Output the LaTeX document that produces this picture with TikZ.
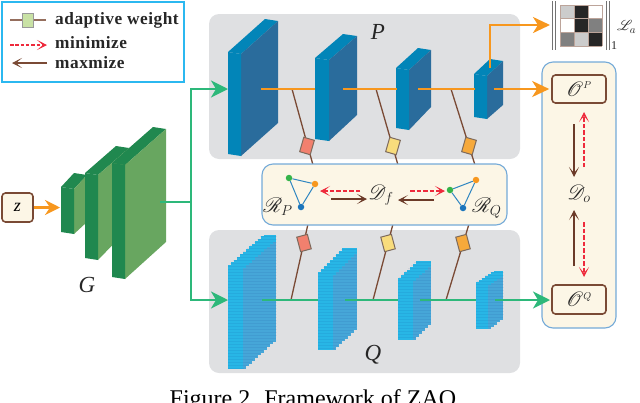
\documentclass[tikz,border=0pt]{standalone}
\usepackage{fontspec}
\usepackage{mathrsfs}
\setmainfont{Liberation Serif}
\newfontfamily\legfont[LetterSpace=3]{Liberation Serif Bold}
\usetikzlibrary{arrows.meta,calc}
\definecolor{panelgray}{HTML}{DFE0E2}
\definecolor{creamy}{HTML}{FCF6E6}
\definecolor{edgeblue}{HTML}{74AAD8}
\definecolor{legcyan}{HTML}{2BB8F0}
\definecolor{orangeline}{HTML}{F7971E}
\definecolor{greenline}{HTML}{2DB87A}
\definecolor{brownline}{HTML}{7A4A35}
\definecolor{darkbrown}{HTML}{6B3A28}
\definecolor{redline}{HTML}{EE2A3C}
\definecolor{pstrip}{HTML}{0285B8}
\definecolor{pface}{HTML}{2A6C9C}
\definecolor{qstrip}{HTML}{28B6E6}
\definecolor{qface}{HTML}{46A6D8}
\definecolor{gstrip}{HTML}{20884F}
\definecolor{gface}{HTML}{68A660}
\definecolor{lightgreenleg}{HTML}{C9E2A5}
\definecolor{salmonw}{HTML}{F2806E}
\definecolor{yellw}{HTML}{F8DC7C}
\definecolor{orangew}{HTML}{F6A93B}
\definecolor{dotgreen}{HTML}{35B44A}
\definecolor{dotblue}{HTML}{1B75BC}
\definecolor{triblue}{HTML}{2F86C1}
\definecolor{wedge}{HTML}{7D6A5C}
\tikzset{
  x=1pt,y=-1pt,
  panel/.style={fill=panelgray,draw=none,rounded corners=10pt},
  cream/.style={fill=creamy,draw=edgeblue,line width=1.1pt,rounded corners=11pt},
  valbox/.style={draw=brownline,line width=1.6pt,rounded corners=3.5pt,fill=creamy,inner sep=0pt},
  weight/.style={draw=wedge,line width=1pt,minimum width=11pt,minimum height=15pt,inner sep=0pt},
  conn/.style={draw=brownline,line width=1.3pt},
  bigor/.style={draw=orangeline,line width=2.6pt,-{Stealth[length=17pt,width=16pt,inset=5pt]}},
  plainor/.style={draw=orangeline,line width=2.6pt},
  biggr/.style={draw=greenline,line width=2.2pt,-{Stealth[length=17pt,width=17pt,inset=5pt]}},
  plaingr/.style={draw=greenline,line width=2.2pt},
  redarr/.style={draw=redline,line width=1.5pt,dash pattern=on 4.5pt off 2pt,-{Stealth[length=10pt,width=10pt,inset=6pt]}},
  brownarr/.style={draw=darkbrown,line width=1.5pt,-{Stealth[length=10pt,width=10pt,inset=6pt]}},
  legtext/.style={anchor=west,inner sep=0pt,font=\legfont\fontsize{17.3}{17.3}\selectfont,text=black!85},
  lab/.style={inner sep=0pt,text=black!85},
  biglab/.style={lab,font=\itshape\fontsize{23}{23}\selectfont},
  scr/.style={lab,font=\fontsize{20}{20}\selectfont},
  dot/.style={circle,inner sep=0pt,minimum size=6.5pt},
  tri/.style={draw=triblue,line width=1pt},
}
% solid block: strip x0-x1, right x2, top-left y, ridge y, bottom-left y, bottom-right y
\newcommand{\solidblock}[9]{%
  \fill[#8] (#1,#4) -- (#2,#4+2) -- (#3,#5+2) -- ({#3-(#2-#1)},#5) -- cycle;
  \fill[#9] (#2,#4+2) -- (#3,#5+2) -- (#3,#7) -- (#2,#6+2) -- cycle;
  \fill[#8] (#1,#4) -- (#2,#4+2) -- (#2,#6+2) -- (#1,#6) -- cycle;
}
% rasterised block
\newcommand{\qblock}[7]{%
  \begin{scope}
    \pgfmathsetmacro{\cxnext}{#1+3}%
    \pgfmathsetmacro{\cxend}{#3-2}%
    \foreach \cx in {#1,\cxnext,...,\cxend}{%
      \pgfmathsetmacro{\ttop}{max(#5,#4-(\cx-#1)*(#4-#5)/(#3-#2))}%
      \pgfmathsetmacro{\tbot}{\cx<#2?#6:#6-(\cx-#2)*(#6-#7)/(#3-#2)}%
      \pgfmathsetmacro{\ttopd}{#4-(\cx-#2)*(#4-#5)/(#3-#2)+3}%
      \fill[qstrip] (\cx,\ttop) rectangle (\cx+3.05,\tbot);
      \ifdim\cx pt<#2pt\relax\else
        \fill[qface] (\cx,\ttopd) rectangle (\cx+3.05,\tbot);
      \fi
    }
    \pgfmathsetmacro{\ystart}{#5+1.5}%
    \pgfmathsetmacro{\ynext}{#5+4.5}%
    \foreach \ly in {\ystart,\ynext,...,#6}{%
      \pgfmathsetmacro{\lxa}{\ly<#4?#1+(#4-\ly)*(#3-#2)/(#4-#5):#1}%
      \pgfmathsetmacro{\lxb}{\ly>#7?#3-(\ly-#7)*(#3-#2)/(#6-#7):#3}%
      \draw[black!60!blue,opacity=.06,line width=.4pt] (\lxa,\ly) -- (\lxb,\ly);
    }
  \end{scope}
}
\begin{document}
\begin{tikzpicture}
\useasboundingbox (0,0) rectangle (640,402);
% panels
\path[panel] (209,14) rectangle (520,159);
\path[panel] (209,230) rectangle (520,373);
\path[cream] (542,62) rectangle (616,328);

% anchors
\coordinate (pa1) at (261,89); \coordinate (pb1) at (315,89);
\coordinate (pa2) at (343,89); \coordinate (pb2) at (397,89);
\coordinate (pa3) at (418,89); \coordinate (pb3) at (475,89);
\coordinate (pa4) at (494,89);
\coordinate (pup) at (490,68);
\coordinate (qa1) at (262,300); \coordinate (qb1) at (318,300);
\coordinate (qa2) at (345,300); \coordinate (qb2) at (398,300);
\coordinate (qa3) at (420,300); \coordinate (qb3) at (476,300);
\coordinate (qa4) at (495,300);
\coordinate (pj1) at (292,89); \coordinate (pj2) at (376,89); \coordinate (pj3) at (451,89);
\coordinate (qj1) at (291,300); \coordinate (qj2) at (373,300); \coordinate (qj3) at (446,300);
\coordinate (pt1) at (313,165); \coordinate (pt2) at (398,165); \coordinate (pt3) at (475,165);
\coordinate (qt1) at (308,224); \coordinate (qt2) at (393,224); \coordinate (qt3) at (469,224);
\coordinate (gout) at (160,202);
\coordinate (gj) at (191,202);
\coordinate (gp) at (228,89);
\coordinate (gq) at (228,300);

% legend
\draw[legcyan,line width=1.2pt] (2,2) rectangle (184,82);
\coordinate (lw1) at (10,20); \coordinate (lw2) at (46,20);
\draw[brownline!80,line width=1.1pt] (lw1) -- (lw2);
\node[draw=black!40,line width=.8pt,fill=lightgreenleg,minimum width=11pt,minimum height=14pt,inner sep=0pt] (lwbox) at (28,20) {};
\coordinate (lm1) at (10,45); \coordinate (lm2) at (47,45);
\draw[redarr,line width=1.1pt,dash pattern=on 3.5pt off 1.8pt] (lm1) -- (lm2);
\coordinate (lx1) at (47,63); \coordinate (lx2) at (12,63);
\draw[brownarr,draw=brownline,line width=1.3pt] (lx1) -- (lx2);
\node[legtext] (t1) at (55,20.5) {adaptive weight};
\node[legtext] (t2) at (55,43) {minimize};
\node[legtext] (t3) at (55,63) {maxmize};

% generator
\solidblock{61}{74}{87}{187}{173}{232}{222}{gstrip}{gface}
\solidblock{85}{98}{129}{173}{146}{258}{228}{gstrip}{gface}
\solidblock{112}{125}{166}{163}{127}{277}{242}{gstrip}{gface}
\node[biglab] (G) at (87,285) {G};

% input
\node[valbox,minimum width=31pt,minimum height=29pt] (z) at (17.5,207.5) {\itshape\fontsize{18}{18}\selectfont z};
\coordinate (gin) at (60,207.5);
\draw[bigor,-{Stealth[length=15pt,width=15pt,inset=5pt]}] (z.east) -- (gin);

% green feed
\draw[plaingr] (gout) -- (gj);
\draw[biggr] (gj) |- (gp);
\draw[biggr] (gj) |- (gq);

% P blocks
\solidblock{228}{241}{278}{52}{19}{154}{123}{pstrip}{pface}
\solidblock{315}{329}{357}{58}{34}{139}{115}{pstrip}{pface}
\solidblock{396}{409}{431}{68}{48}{128}{107}{pstrip}{pface}
\solidblock{474}{487}{503}{74}{59}{117}{105}{pstrip}{pface}
\node[biglab] (P) at (378,32) {P};

% Q blocks
\qblock{228}{243}{277}{265}{235}{369}{338}
\qblock{318}{333}{357}{272}{248}{350}{327}
\qblock{398}{413}{431}{278}{261}{340}{322}
\qblock{476}{488}{504}{282}{271}{329}{317}
\node[biglab] (Q) at (373,355) {Q};

% connectors with weights
\draw[conn] (pj1) -- (pt1);
\draw[conn] (pj2) -- (pt2);
\draw[conn] (pj3) -- (pt3);
\draw[conn] (qj1) -- (qt1);
\draw[conn] (qj2) -- (qt2);
\draw[conn] (qj3) -- (qt3);
\node[weight,fill=salmonw,rotate=-16] (wp1) at (307,146) {};
\node[weight,fill=yellw,rotate=-16] (wp2) at (393,146) {};
\node[weight,fill=orangew,rotate=-16] (wp3) at (469,146) {};
\node[weight,fill=salmonw,rotate=15] (wq1) at (304,243) {};
\node[weight,fill=yellw,rotate=15] (wq2) at (388,243) {};
\node[weight,fill=orangew,rotate=15] (wq3) at (463,243) {};

% middle panel
\path[cream] (262,164) rectangle (507,225);

% orange flow
\draw[plainor] (pa1) -- (pb1);
\draw[plainor] (pa2) -- (pb2);
\draw[plainor] (pa3) -- (pb3);

% green flow
\draw[plaingr] (qa1) -- (qb1);
\draw[plaingr] (qa2) -- (qb2);
\draw[plaingr] (qa3) -- (qb3);

% output boxes
\node[valbox,minimum width=54pt,minimum height=28pt] (op) at (579,89) {};
\node[valbox,minimum width=54pt,minimum height=29pt] (oq) at (579,299.5) {};
\node[scr] (optext) at (579,89) {$\mathscr{O}^{\scriptscriptstyle P}$};
\node[scr] (oqtext) at (579,299.5) {$\mathscr{O}^{\scriptscriptstyle Q}$};
\coordinate (oqin) at (552,300);
\draw[bigor,shorten >=2pt] (pa4) -- (op.west);
\draw[biggr,shorten >=2pt] (qa4) -- (oqin);

% attention loss
\coordinate (lc) at (552,25);
\draw[bigor,shorten >=2pt] (pup) |- (lc);
\foreach \r/\c/\g in {0/0/80,0/1/15,0/2/100,1/0/100,1/1/15,1/2/50,2/0/50,2/1/80,2/2/15}{%
  \pgfmathsetmacro{\cellx}{560+14*\c}%
  \pgfmathsetmacro{\celly}{5+13.7*\r}%
  \fill[black!\the\numexpr100-\g\relax] (\cellx,\celly) rectangle +(14,13.7);
}
\foreach \c in {0,1,2,3}{\draw[brownline!50,line width=.5pt] (560+14*\c,5) -- (560+14*\c,46);}
\foreach \r in {0,1,2,3}{\draw[brownline!50,line width=.5pt] (560,5+13.7*\r) -- (602,5+13.7*\r);}
\foreach \bx in {552,555,606,609}{\draw[black!55,line width=.8pt] (\bx,1) -- (\bx,50);}
\node[lab,font=\fontsize{12}{12}\selectfont] (one) at (614,46) {1};
\node[lab,anchor=west,font=\fontsize{15.5}{15.5}\selectfont] (la) at (617,27) {$\mathscr{L}_{a}$};

% triangles
\node[dot,fill=dotgreen] (tp1) at (289,178) {};
\node[dot,fill=orangeline] (tp2) at (315,184) {};
\node[dot,fill=dotblue] (tp3) at (301,207) {};
\node[dot,fill=dotgreen] (tq1) at (450,190) {};
\node[dot,fill=orangeline] (tq2) at (476,180) {};
\node[dot,fill=dotblue] (tq3) at (463,208) {};
\draw[tri] (tp1) -- (tp2) -- (tp3) -- (tp1);
\draw[tri] (tq1) -- (tq2) -- (tq3) -- (tq1);
\node[scr] (rp) at (278,207) {$\mathscr{R}_{P}$};
\node[scr] (rq) at (487,208) {$\mathscr{R}_{Q}$};
\node[scr] (df) at (381,195) {$\mathscr{D}_{f}$};
\coordinate (m1) at (360,191); \coordinate (m2) at (320,191);
\coordinate (m3) at (331,199); \coordinate (m4) at (367,199);
\coordinate (m5) at (410,191); \coordinate (m6) at (445,191);
\coordinate (m7) at (434,200); \coordinate (m8) at (398,200);
\draw[redarr] (m1) -- (m2);
\draw[brownarr] (m3) -- (m4);
\draw[redarr] (m5) -- (m6);
\draw[brownarr] (m7) -- (m8);

% discrepancy on output
\node[scr] (do) at (579,194) {$\mathscr{D}_{o}$};
\coordinate (r1) at (584,167); \coordinate (r2) at (584,112);
\coordinate (r3) at (574,124); \coordinate (r4) at (574,177);
\coordinate (r5) at (574,266); \coordinate (r6) at (574,210);
\coordinate (r7) at (584,222); \coordinate (r8) at (584,277);
\draw[redarr] (r1) -- (r2);
\draw[brownarr] (r3) -- (r4);
\draw[brownarr] (r5) -- (r6);
\draw[redarr] (r7) -- (r8);

% caption
\node[lab,anchor=base,text=black,font=\fontsize{24}{24}\selectfont] (cap) at (316,406) {Figure 2. Framework of ZAQ.};
\end{tikzpicture}
\end{document}
